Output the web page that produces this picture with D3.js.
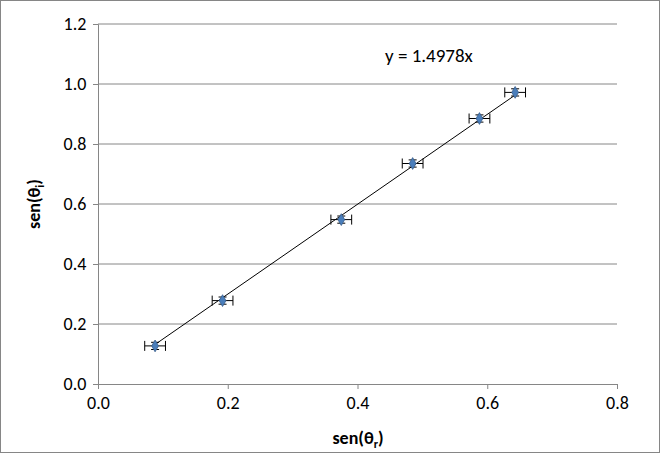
<!DOCTYPE html>
<html lang="en">
<head>
<meta charset="UTF-8">
<script src="https://d3js.org/d3.v7.min.js"></script>
<style>
  body { margin: 0; background: #fff; }
  text { font-family: Calibri, Carlito, "Liberation Sans", Arial, sans-serif; }
</style>
</head>
<body>
<div id="chart"></div>
<script>
// valores
const senR = [0.088, 0.192, 0.375, 0.485, 0.588, 0.643];
const senI = [0.127, 0.278, 0.548, 0.735, 0.885, 0.972];
const errX = [0.016, 0.016, 0.016, 0.016, 0.016, 0.016];
const errY = [0.012, 0.012, 0.012, 0.012, 0.012, 0.012];
const slope = 1.4978;
const xTicks = [0, 0.2, 0.4, 0.6, 0.8];
const yTicks = [0, 0.2, 0.4, 0.6, 0.8, 1.0, 1.2];

const width = 660, height = 453;
const svg = d3.select("#chart").append("svg").attr("width", width).attr("height", height);
svg.append("rect").attr("x", 0.5).attr("y", 0.5).attr("width", width - 1).attr("height", height - 1)
  .attr("fill", "#fff").attr("stroke", "#868686");

const x = d3.scaleLinear().domain([0, 0.8]).range([98, 617]);
const y = d3.scaleLinear().domain([0, 1.2]).range([384, 24]);

// grid
svg.selectAll(".grid").data(yTicks.slice(1)).enter().append("line")
  .attr("x1", x(0)).attr("x2", x(0.8)).attr("y1", d => y(d)).attr("y2", d => y(d))
  .attr("stroke", "#868686").attr("stroke-width", 1);

// ejes
const xAxis = svg.append("g").attr("transform", `translate(0,${y(0)})`)
  .call(d3.axisBottom(x).tickValues(xTicks).tickFormat(d3.format(".1f")).tickSize(5));
const yAxis = svg.append("g").attr("transform", `translate(${x(0)},0)`)
  .call(d3.axisLeft(y).tickValues(yTicks).tickFormat(d3.format(".1f")).tickSize(5));
[xAxis, yAxis].forEach(a => {
  a.selectAll("path,line").attr("stroke", "#868686");
  a.selectAll("text").attr("font-size", 18).attr("fill", "#000");
});
xAxis.selectAll("text").attr("dy", "0.95em");
yAxis.selectAll("text").attr("dx", "-0.2em");

// linea de tendencia
const x0 = d3.min(senR), x1 = d3.max(senR);
svg.append("line").attr("x1", x(x0)).attr("y1", y(slope * x0)).attr("x2", x(x1)).attr("y2", y(slope * x1))
  .attr("stroke", "#000").attr("stroke-width", 1);

// barras de error
const pts = senR.map((v, i) => ({ x: v, y: senI[i], ex: errX[i], ey: errY[i] }));
const g = svg.append("g").attr("stroke", "#000").attr("stroke-width", 1);
pts.forEach(p => {
  g.append("line").attr("x1", x(p.x - p.ex)).attr("x2", x(p.x + p.ex)).attr("y1", y(p.y)).attr("y2", y(p.y));
  g.append("line").attr("x1", x(p.x - p.ex)).attr("x2", x(p.x - p.ex)).attr("y1", y(p.y) - 5).attr("y2", y(p.y) + 5);
  g.append("line").attr("x1", x(p.x + p.ex)).attr("x2", x(p.x + p.ex)).attr("y1", y(p.y) - 5).attr("y2", y(p.y) + 5);
  g.append("line").attr("x1", x(p.x)).attr("x2", x(p.x)).attr("y1", y(p.y + p.ey)).attr("y2", y(p.y - p.ey));
  g.append("line").attr("x1", x(p.x) - 4).attr("x2", x(p.x) + 4).attr("y1", y(p.y + p.ey)).attr("y2", y(p.y + p.ey));
  g.append("line").attr("x1", x(p.x) - 4).attr("x2", x(p.x) + 4).attr("y1", y(p.y - p.ey)).attr("y2", y(p.y - p.ey));
});

// puntos (rombos)
svg.selectAll(".pt").data(pts).enter().append("path")
  .attr("d", d3.symbol(d3.symbolDiamond, 40))
  .attr("transform", d => `translate(${x(d.x)},${y(d.y)})`)
  .attr("fill", "#4a7ebb").attr("stroke", "#385d8a").attr("stroke-width", 0.8);

// ecuacion
svg.append("text").attr("x", 385).attr("y", 62).attr("font-size", 19).text("y = 1.4978x");

// titulos
const xt = svg.append("text").attr("x", 358).attr("y", 444).attr("text-anchor", "middle")
  .attr("font-size", 18).attr("font-weight", "bold");
xt.append("tspan").text("sen(θ");
xt.append("tspan").attr("font-size", 12).attr("dy", 4).text("r");
xt.append("tspan").attr("dy", -4).text(")");

const yt = svg.append("text").attr("transform", "translate(40,204) rotate(-90)").attr("text-anchor", "middle")
  .attr("font-size", 18).attr("font-weight", "bold");
yt.append("tspan").text("sen(θ");
yt.append("tspan").attr("font-size", 12).attr("dy", 4).text("i");
yt.append("tspan").attr("dy", -4).text(")");
</script>
</body>
</html>
